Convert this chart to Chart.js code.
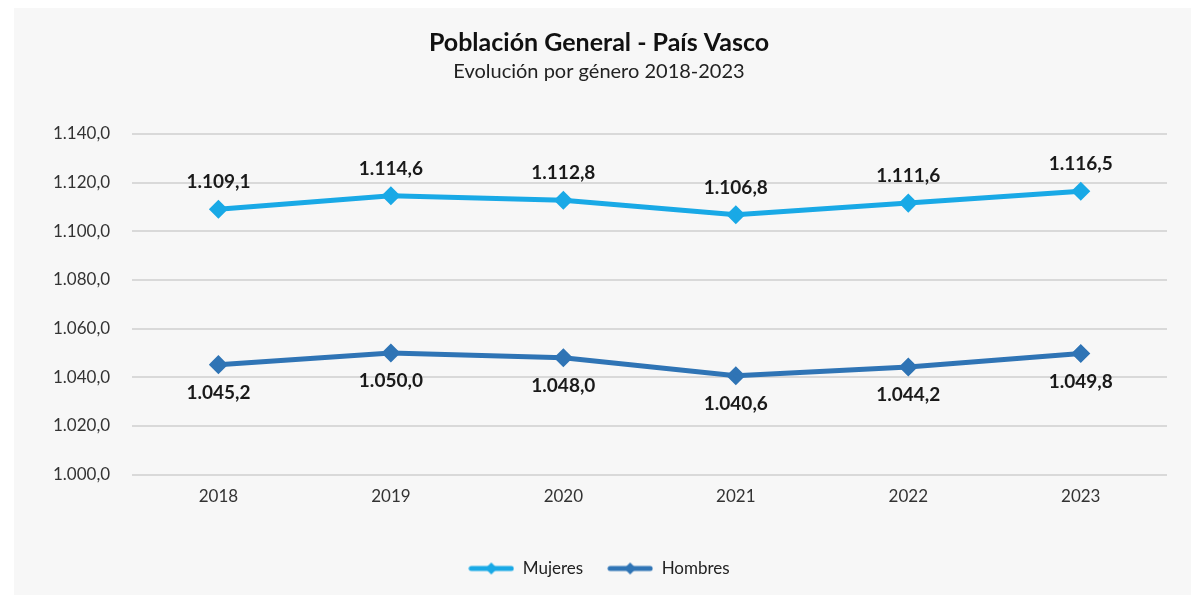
<!DOCTYPE html>
<html>
<head>
<meta charset="utf-8">
<script src="https://cdn.jsdelivr.net/npm/chart.js@4/dist/chart.umd.min.js"></script>
<style>
  html, body { margin: 0; padding: 0; background: #ffffff; }
  #wrap { position: absolute; left: 14px; top: 8px; width: 1177px; height: 587px; background: #f7f7f7; }
  canvas { display: block; }
</style>
</head>
<body>
<div id="wrap"><canvas id="c" width="1177" height="587"></canvas></div>
<script>
const categories = ['2018', '2019', '2020', '2021', '2022', '2023'];
const mujeres = [1109.1, 1114.6, 1112.8, 1106.8, 1111.6, 1116.5];
const hombres = [1045.2, 1050.0, 1048.0, 1040.6, 1044.2, 1049.8];
const seriesNames = ['Mujeres', 'Hombres'];
const yTicks = [1000, 1020, 1040, 1060, 1080, 1100, 1120, 1140];
const titleText = 'Población General - País Vasco';
const subtitleText = 'Evolución por género 2018-2023';

const FONT = "'Lato', 'Open Sans', sans-serif";
const colM = '#19a9e6';
const colH = '#2f74b5';

function fmt(v) {
  const s = v.toFixed(1).split('.');
  const i = s[0].replace(/\B(?=(\d{3})+(?!\d))/g, '.');
  return i + ',' + s[1];
}

function legendIcon(color) {
  const c = document.createElement('canvas');
  c.width = 46; c.height = 14;
  const g = c.getContext('2d');
  g.strokeStyle = color; g.lineWidth = 5; g.lineCap = 'round';
  g.beginPath(); g.moveTo(3, 7); g.lineTo(43, 7); g.stroke();
  g.fillStyle = color;
  g.beginPath(); g.moveTo(23, 1); g.lineTo(29, 7); g.lineTo(23, 13); g.lineTo(17, 7); g.closePath(); g.fill();
  return c;
}

const labelPlugin = {
  id: 'valueLabels',
  afterDatasetsDraw(chart) {
    const ctx = chart.ctx;
    ctx.save();
    ctx.font = "bold 19px " + FONT;
    ctx.fillStyle = '#1a1a1a';
    ctx.textAlign = 'center';
    ctx.textBaseline = 'middle';
    chart.data.datasets.forEach((ds, di) => {
      const meta = chart.getDatasetMeta(di);
      meta.data.forEach((pt, i) => {
        const off = di === 0 ? -27 : 28;
        ctx.fillText(fmt(ds.data[i]), pt.x, pt.y + off);
      });
    });
    ctx.restore();
  }
};

new Chart(document.getElementById('c'), {
  type: 'line',
  data: {
    labels: categories,
    datasets: [
      { label: seriesNames[0], data: mujeres, borderColor: colM, backgroundColor: colM, borderWidth: 5,
        pointStyle: 'rectRot', pointRadius: 6, pointBackgroundColor: colM, pointBorderColor: colM, tension: 0 },
      { label: seriesNames[1], data: hombres, borderColor: colH, backgroundColor: colH, borderWidth: 5,
        pointStyle: 'rectRot', pointRadius: 6, pointBackgroundColor: colH, pointBorderColor: colH, tension: 0 }
    ]
  },
  options: {
    responsive: false,
    animation: false,
    layout: { padding: { left: 17, right: 24, top: 12, bottom: 8 } },
    plugins: {
      title: { display: true, text: titleText, color: '#111', font: { family: FONT, size: 25, weight: 'bold' }, padding: { top: 8, bottom: 2 } },
      subtitle: { display: true, text: subtitleText, color: '#222', font: { family: FONT, size: 20 }, padding: { bottom: 50 } },
      legend: {
        position: 'bottom',
        labels: {
          color: '#222', font: { family: FONT, size: 17 }, usePointStyle: true, pointStyleWidth: 46, boxHeight: 14, padding: 24,
          generateLabels(chart) {
            return chart.data.datasets.map((ds, i) => ({
              text: ds.label, pointStyle: legendIcon(ds.borderColor), fillStyle: ds.borderColor,
              strokeStyle: ds.borderColor, lineWidth: 0, datasetIndex: i, hidden: false, fontColor: '#222'
            }));
          }
        }
      },
      tooltip: { enabled: false }
    },
    scales: {
      x: {
        offset: true,
        grid: { display: false },
        border: { display: false },
        ticks: { color: '#333', font: { family: FONT, size: 17 }, padding: 4 },
        afterFit(axis) { axis.height += 25; }
      },
      y: {
        min: 1000, max: 1140,
        afterBuildTicks(axis) { axis.ticks = yTicks.map(v => ({ value: v })); },
        grid: { color: '#d9d9d9', lineWidth: 2, drawTicks: false },
        border: { display: false },
        ticks: { color: '#333', font: { family: FONT, size: 17 }, padding: 22, callback: v => fmt(v) }
      }
    }
  },
  plugins: [labelPlugin]
});
</script>
</body>
</html>
